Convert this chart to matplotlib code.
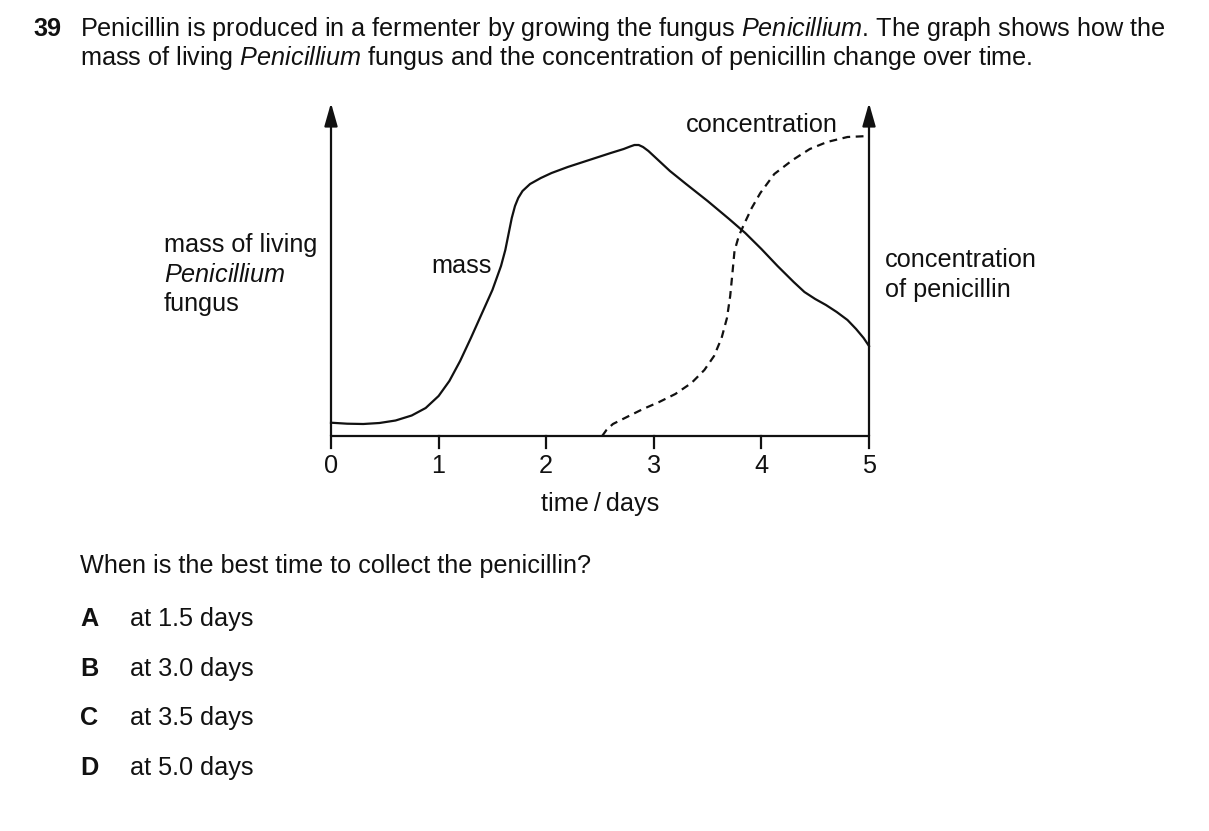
import matplotlib
matplotlib.use("Agg")
import matplotlib.pyplot as plt

# --- values (day, height above baseline in px) ---
mass_days = [0.00, 0.15, 0.30, 0.45, 0.60, 0.75, 0.88, 1.00, 1.10, 1.20, 1.30, 1.40,
             1.50, 1.58, 1.62, 1.65, 1.68, 1.71, 1.74, 1.78, 1.85, 1.95, 2.05, 2.20,
             2.40, 2.60, 2.72, 2.78, 2.82, 2.86, 2.90, 2.95, 3.03, 3.15, 3.30, 3.50,
             3.70, 3.85, 4.00, 4.15, 4.30, 4.40, 4.50, 4.60, 4.70, 4.80, 4.88, 4.95, 5.00]
mass_vals = [13.3, 12.3, 12.0, 13.0, 15.5, 20.5, 28, 40, 55, 75, 98, 122,
             146, 170, 186, 202, 218, 230, 238, 245, 252, 258, 263, 269,
             276, 283, 287, 289.5, 291, 291, 289, 285, 277, 265, 252, 235,
             217, 203, 187, 170, 154, 144, 137, 131, 124, 116, 107, 98, 90]

conc_days = [2.52, 2.56, 2.62, 2.75, 2.90, 3.05, 3.20, 3.35, 3.47, 3.56, 3.63, 3.68,
             3.71, 3.73, 3.75, 3.79, 3.84, 3.91, 3.99, 4.12, 4.29, 4.45, 4.61, 4.80, 5.00]
conc_vals = [0, 6, 12, 19, 27, 34, 42, 53, 66, 80, 98, 118,
             140, 162, 185, 200, 212, 228, 243, 262, 276, 287, 294, 299, 300]

day_ticks = [0, 1, 2, 3, 4, 5]
options = [("A", "at 1.5 days"), ("B", "at 3.0 days"), ("C", "at 3.5 days"), ("D", "at 5.0 days")]

W, H = 1209, 831
plt.rcParams['font.family'] = ['Liberation Sans', 'DejaVu Sans']
plt.rcParams['mathtext.fontset'] = 'custom'
plt.rcParams['mathtext.rm'] = 'Liberation Sans'
plt.rcParams['mathtext.it'] = 'Liberation Sans:italic'
FS = 18.2

fig = plt.figure(figsize=(W / 100, H / 100), dpi=100)


def px(x, y):
    return x / W, 1 - y / H


def txt(x, y, s, **kw):
    kw.setdefault('fontsize', FS)
    fig.text(*px(x, y), s, va='baseline', ha=kw.pop('ha', 'left'), color='#111111', **kw)


# --- question text ---
txt(33, 36, "39", fontweight='bold')
txt(80, 36, r"Penicillin is produced in a fermenter by growing the fungus $\mathit{Penicillium}$. The graph shows how the")
txt(80, 65, r"mass of living $\mathit{Penicillium}$ fungus and the concentration of penicillin change over time.")

# --- graph ---
ax = fig.add_axes([331 / W, (H - 436) / H, 538 / W, 333 / H])
ax.set_xlim(0, 5)
ax.set_ylim(0, 333)
ax.axis('off')

lc = '#111111'
ax.plot([0, 5], [0, 0], color=lc, lw=1.6, clip_on=False, solid_capstyle='butt')
for xa in (0, 5):
    ax.annotate('', xy=(xa, 333), xytext=(xa, 0), annotation_clip=False,
                arrowprops=dict(arrowstyle='-|>,head_length=0.7,head_width=0.2',
                                mutation_scale=20, lw=1.6, color=lc, shrinkA=0, shrinkB=0))
for d in day_ticks:
    ax.plot([d, d], [0, -12], color=lc, lw=1.6, clip_on=False)
    ax.text(d, -37, str(d), ha='center', va='baseline', fontsize=FS, color=lc)

ax.plot(mass_days, mass_vals, color=lc, lw=1.6, clip_on=False, solid_joinstyle='round')
ax.plot(conc_days, conc_vals, color=lc, lw=1.6, ls=(0, (3.5, 2.5)), clip_on=False)

txt(600, 511, "time\u2009/\u2009days", ha='center')
txt(431, 273, "mass")
txt(686, 132, "concentration")
txt(164, 252, "mass of living")
txt(164, 282, r"$\mathit{Penicillium}$")
txt(164, 311, "fungus")
txt(885, 267, "concentration")
txt(885, 297, "of penicillin")

# --- options ---
txt(80, 573, "When is the best time to collect the penicillin?")
for i, (letter, ans) in enumerate(options):
    y = 626 + 49.7 * i
    txt(80, y, letter, fontweight='bold')
    txt(130, y, ans)

plt.savefig("out.png", dpi=100, facecolor='white')
